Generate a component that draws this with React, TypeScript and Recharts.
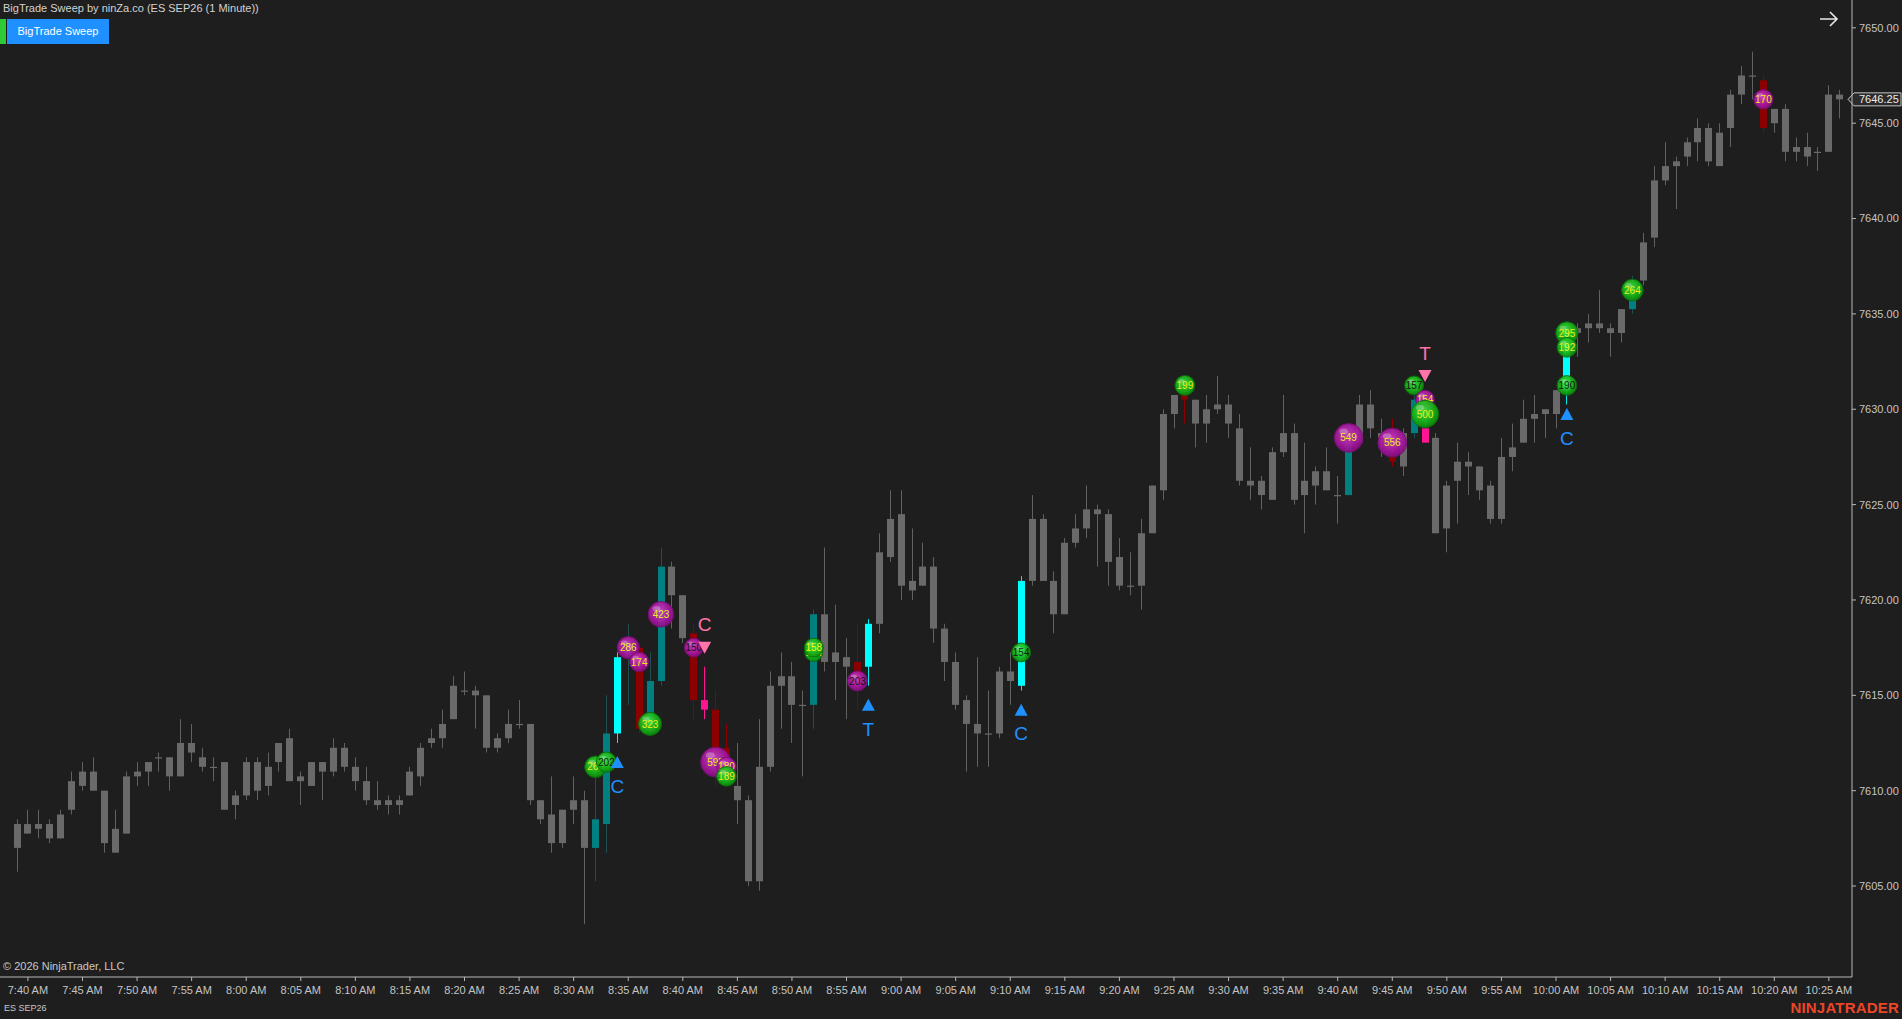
import React from "react";
import { ComposedChart, Bar, Scatter, XAxis, YAxis, ReferenceLine } from "recharts";

const W = 1902;
const H = 1019;
const FONT = '"Liberation Sans", Arial, sans-serif';
const BG = "#1e1e1e";

// ES SEP26, 1 minute bars, first bar is 7:39 AM
const firstBarTime = "7:39 AM";

const opens = [
  7607.0, 7608.25, 7608.0, 7608.25, 7607.5, 7609.0, 7610.25, 7611.0, 7610.0, 7606.75,
  7607.75, 7610.75, 7611.0, 7611.75, 7611.75, 7610.75, 7612.5, 7611.75, 7611.25, 7611.5,
  7609.25, 7609.75, 7611.5, 7610.25, 7611.5, 7612.75, 7610.5, 7610.25, 7611.5, 7611.0,
  7612.25, 7611.25, 7610.5, 7609.5, 7609.25, 7609.5, 7609.75, 7610.75, 7612.5, 7612.75,
  7613.75, 7615.25, 7615.25, 7615.0, 7612.25, 7612.75, 7613.5, 7613.5, 7609.5, 7608.75,
  7607.25, 7609.0, 7609.5, 7607.0, 7608.25, 7613.0, 7617.0, 7617.5, 7613.5, 7615.75,
  7621.75, 7620.25, 7618.25, 7614.75, 7614.25, 7612.25, 7610.25, 7609.5, 7605.25, 7611.25,
  7615.5, 7616.0, 7614.5, 7614.5, 7619.25, 7616.75, 7617.0, 7616.75, 7616.5, 7618.75,
  7622.25, 7624.5, 7620.5, 7620.75, 7621.75, 7618.5, 7616.75, 7614.75, 7613.5, 7613.0,
  7613.0, 7616.25, 7615.5, 7621.0, 7624.25, 7621.0, 7619.25, 7623.0, 7623.75, 7624.75,
  7624.5, 7622.25, 7620.75, 7620.75, 7623.5, 7625.75, 7629.75, 7630.75, 7630.5, 7629.25,
  7630.0, 7630.25, 7629.0, 7626.25, 7626.25, 7625.25, 7627.75, 7628.75, 7625.5, 7626.0,
  7626.75, 7625.5, 7625.5, 7628.25, 7630.25, 7628.75, 7627.5, 7627.0, 7628.75, 7629.0,
  7628.5, 7623.75, 7626.25, 7627.25, 7627.0, 7626.0, 7624.25, 7627.5, 7628.25, 7629.5,
  7629.75, 7629.75, 7631.0, 7634.0, 7634.25, 7634.5, 7634.25, 7634.0, 7635.25, 7636.75,
  7639.0, 7642.0, 7642.75, 7643.25, 7644.0, 7644.75, 7642.75, 7644.75, 7646.5, 7647.5,
  7647.25, 7645.0, 7645.75, 7643.5, 7643.75, 7643.5, 7643.5, 7646.5,
];

const highs = [
  7608.5, 7609.0, 7609.0, 7608.5, 7609.0, 7611.0, 7611.5, 7611.75, 7610.0, 7609.0,
  7611.0, 7611.5, 7611.5, 7612.0, 7611.75, 7613.75, 7613.5, 7612.25, 7611.75, 7611.5,
  7610.0, 7611.75, 7611.75, 7612.0, 7612.5, 7613.25, 7611.0, 7611.5, 7611.5, 7612.75,
  7612.5, 7611.75, 7611.25, 7610.5, 7609.75, 7609.75, 7611.25, 7612.5, 7613.25, 7614.25,
  7616.0, 7616.25, 7615.5, 7615.0, 7613.0, 7614.25, 7614.75, 7613.5, 7609.5, 7610.75,
  7609.0, 7610.75, 7610.0, 7611.25, 7615.0, 7617.25, 7618.75, 7617.75, 7617.25, 7622.75,
  7622.0, 7620.25, 7618.75, 7616.5, 7615.25, 7613.5, 7612.5, 7609.75, 7613.75, 7616.25,
  7617.25, 7616.75, 7615.25, 7619.5, 7622.75, 7619.75, 7618.0, 7618.75, 7619.0, 7623.5,
  7625.75, 7625.75, 7623.75, 7623.0, 7622.25, 7618.75, 7617.25, 7615.0, 7617.0, 7615.25,
  7616.5, 7617.25, 7621.25, 7625.5, 7624.5, 7621.5, 7623.25, 7624.5, 7626.0, 7625.0,
  7624.75, 7623.25, 7622.5, 7624.25, 7626.0, 7630.0, 7630.75, 7631.25, 7630.5, 7630.75,
  7631.75, 7630.75, 7629.75, 7628.0, 7626.5, 7628.0, 7630.75, 7629.25, 7628.25, 7627.0,
  7628.0, 7626.5, 7628.75, 7630.75, 7631.0, 7629.5, 7629.5, 7629.0, 7631.0, 7629.5,
  7628.75, 7626.25, 7628.25, 7627.75, 7627.0, 7626.25, 7628.5, 7629.25, 7630.5, 7630.75,
  7630.0, 7631.0, 7634.5, 7634.5, 7635.0, 7636.25, 7634.5, 7635.25, 7637.0, 7639.25,
  7642.75, 7644.0, 7643.25, 7644.25, 7645.25, 7645.0, 7645.0, 7646.75, 7648.0, 7648.75,
  7647.5, 7645.75, 7646.0, 7644.25, 7644.5, 7643.75, 7647.0, 7646.75,
];

const lows = [
  7605.75, 7607.75, 7607.5, 7607.25, 7607.5, 7608.75, 7610.0, 7610.0, 7606.75, 7606.75,
  7607.75, 7610.25, 7610.25, 7611.0, 7610.0, 7610.75, 7611.5, 7611.0, 7610.5, 7609.0,
  7608.5, 7609.5, 7609.5, 7609.75, 7611.0, 7610.5, 7609.25, 7610.25, 7609.5, 7610.75,
  7611.0, 7610.0, 7609.25, 7609.0, 7608.75, 7608.75, 7609.75, 7610.25, 7612.25, 7612.25,
  7613.75, 7615.0, 7613.25, 7612.0, 7612.0, 7612.5, 7613.25, 7609.25, 7608.25, 7606.75,
  7607.0, 7608.25, 7603.0, 7605.25, 7606.75, 7612.5, 7614.5, 7613.0, 7613.0, 7615.5,
  7618.5, 7617.75, 7613.75, 7613.75, 7610.25, 7610.75, 7608.25, 7605.0, 7604.75, 7611.0,
  7613.25, 7612.5, 7610.75, 7613.25, 7616.25, 7614.75, 7613.75, 7614.25, 7615.5, 7618.25,
  7622.0, 7620.0, 7620.0, 7620.75, 7617.75, 7615.75, 7614.25, 7611.0, 7611.25, 7611.25,
  7612.75, 7614.5, 7615.25, 7620.75, 7621.0, 7618.25, 7619.25, 7622.75, 7623.25, 7621.75,
  7620.75, 7620.5, 7620.25, 7619.5, 7623.5, 7625.25, 7629.0, 7629.25, 7628.0, 7628.25,
  7629.75, 7628.5, 7626.0, 7625.25, 7624.75, 7625.25, 7627.5, 7625.0, 7623.5, 7625.0,
  7625.75, 7624.0, 7625.5, 7628.25, 7628.5, 7627.5, 7627.0, 7626.5, 7628.5, 7628.25,
  7623.5, 7622.5, 7624.0, 7625.5, 7625.25, 7624.0, 7624.0, 7626.75, 7628.25, 7628.25,
  7628.5, 7629.0, 7630.25, 7632.75, 7633.5, 7634.0, 7632.75, 7633.5, 7635.0, 7636.5,
  7638.5, 7641.75, 7640.5, 7642.75, 7643.0, 7642.75, 7642.75, 7643.75, 7646.0, 7646.25,
  7644.5, 7644.5, 7643.0, 7643.0, 7642.75, 7642.5, 7643.5, 7645.25,
];

const closes = [
  7608.25, 7607.75, 7608.25, 7607.5, 7608.75, 7610.5, 7611.0, 7610.0, 7607.25, 7608.0,
  7610.75, 7611.0, 7611.5, 7611.75, 7610.75, 7612.5, 7612.0, 7611.25, 7611.25, 7609.0,
  7609.75, 7611.5, 7610.0, 7611.25, 7612.5, 7610.5, 7610.75, 7611.5, 7611.0, 7612.25,
  7611.25, 7610.5, 7609.5, 7609.25, 7609.5, 7609.25, 7611.0, 7612.25, 7612.75, 7613.5,
  7615.5, 7615.25, 7615.0, 7612.25, 7612.75, 7613.5, 7613.5, 7609.5, 7608.5, 7607.25,
  7609.0, 7609.5, 7607.0, 7608.5, 7613.0, 7617.0, 7617.75, 7613.25, 7615.75, 7621.75,
  7620.25, 7618.0, 7614.75, 7614.25, 7612.0, 7611.25, 7609.5, 7605.25, 7611.25, 7615.5,
  7616.0, 7614.5, 7614.5, 7619.25, 7616.75, 7617.25, 7616.5, 7615.5, 7618.75, 7622.5,
  7624.25, 7620.75, 7621.0, 7621.75, 7618.5, 7616.75, 7614.5, 7613.5, 7613.0, 7613.0,
  7616.25, 7615.75, 7621.0, 7624.25, 7621.0, 7619.25, 7623.0, 7623.75, 7624.75, 7624.5,
  7622.0, 7620.75, 7620.75, 7623.5, 7626.0, 7629.75, 7630.75, 7630.5, 7629.25, 7630.0,
  7630.25, 7629.25, 7626.25, 7626.0, 7625.5, 7627.75, 7628.75, 7625.25, 7626.25, 7626.75,
  7625.75, 7625.5, 7628.25, 7630.25, 7629.0, 7628.5, 7627.25, 7628.75, 7630.5, 7628.25,
  7623.5, 7626.0, 7627.25, 7627.0, 7625.75, 7624.25, 7627.5, 7628.0, 7629.5, 7629.75,
  7630.0, 7631.0, 7634.0, 7634.25, 7634.5, 7634.25, 7634.0, 7635.25, 7635.75, 7638.75,
  7642.0, 7642.75, 7643.0, 7644.0, 7644.75, 7643.0, 7644.5, 7646.5, 7647.5, 7647.5,
  7644.75, 7645.75, 7643.5, 7643.75, 7643.25, 7643.5, 7646.5, 7646.25,
];

// bars painted by the sweep indicator (bar index from first bar)
const cyanBars = [55, 78, 92, 142];
const tealBars = [53, 54, 56, 58, 59, 73, 122, 128, 148];
const redBars = [57, 62, 64, 65, 77, 107, 126, 160];
const pinkBars = [63, 129];

// big trade bubbles
const bubbleBar = [53, 54, 56, 57, 58, 59, 62, 64, 65, 65, 73, 73, 77, 92, 107, 122, 126, 128, 129, 129, 142, 142, 142, 148, 160];
const bubblePrice = [
  7611.25, 7611.5, 7617.5, 7616.75, 7613.5, 7619.25, 7617.5, 7611.5, 7611.25, 7610.75, 7617.25, 7617.5, 7615.75,
  7617.25, 7631.25, 7628.5, 7628.25, 7631.25, 7630.5, 7629.75, 7634.0, 7633.25, 7631.25, 7636.25, 7646.25,
];
const bubbleVolume = [263, 202, 286, 174, 323, 423, 150, 595, 180, 189, 124, 158, 203, 154, 199, 549, 556, 157, 154, 500, 295, 192, 190, 264, 170];
const bubbleSide = [
  "buy", "buy", "sell", "sell", "buy", "sell", "sell", "sell", "sell", "buy", "buy", "buy", "sell",
  "buy", "buy", "sell", "sell", "buy", "sell", "buy", "buy", "buy", "buy", "buy", "sell",
];

// sweep signals
const signalBar = [55, 63, 78, 92, 129, 142];
const signalPrice = [7611.5, 7617.5, 7614.5, 7614.25, 7631.75, 7629.75];
const signalDir = ["up", "down", "up", "up", "down", "up"];
const signalLetter = ["C", "C", "T", "C", "T", "C"];

const timeTicks = [
  "7:40 AM", "7:45 AM", "7:50 AM", "7:55 AM", "8:00 AM", "8:05 AM", "8:10 AM", "8:15 AM", "8:20 AM",
  "8:25 AM", "8:30 AM", "8:35 AM", "8:40 AM", "8:45 AM", "8:50 AM", "8:55 AM", "9:00 AM", "9:05 AM",
  "9:10 AM", "9:15 AM", "9:20 AM", "9:25 AM", "9:30 AM", "9:35 AM", "9:40 AM", "9:45 AM", "9:50 AM",
  "9:55 AM", "10:00 AM", "10:05 AM", "10:10 AM", "10:15 AM", "10:20 AM", "10:25 AM",
];
const priceTicks = [7605, 7610, 7615, 7620, 7625, 7630, 7635, 7640, 7645, 7650];

// ---- derived tables ----
const toMinutes = (t: string) => {
  const [hm, ap] = t.split(" ");
  const [h, m] = hm.split(":").map(Number);
  return ((h % 12) + (ap === "PM" ? 12 : 0)) * 60 + m;
};
const startMin = toMinutes(firstBarTime);
const tickIdx = timeTicks.map((t) => toMinutes(t) - startMin);
const tickLabel = new Map(tickIdx.map((v, k) => [v, timeTicks[k]]));

const flowOf = (i: number) =>
  cyanBars.includes(i) ? "cyan" : tealBars.includes(i) ? "teal" : redBars.includes(i) ? "red" : pinkBars.includes(i) ? "pink" : "gray";

const candles = opens.map((o, i) => ({
  idx: i,
  open: o,
  high: highs[i],
  low: lows[i],
  close: closes[i],
  range: [lows[i], highs[i]],
  flow: flowOf(i),
}));

const bubbles = bubbleBar.map((b, k) => ({ idx: b, price: bubblePrice[k], volume: bubbleVolume[k], side: bubbleSide[k], key: k }));
const signals = signalBar.map((b, k) => ({ idx: b, price: signalPrice[k], dir: signalDir[k], letter: signalLetter[k] }));
const lastClose = closes[closes.length - 1];

// ---- styling ----
const FLOW: Record<string, { body: string; wick: string }> = {
  gray: { body: "#6a6a6a", wick: "#616161" },
  cyan: { body: "#00ffff", wick: "#00e8e8" },
  teal: { body: "#008080", wick: "#1f4f4f" },
  red: { body: "#8b0000", wick: "#8b0000" },
  pink: { body: "#ff1493", wick: "#ff1493" },
};
const darkLabelAt = new Set([1, 6, 12, 13, 17, 22]);
const BLUE = "#1e90ff";
const PINK = "#ff74ab";

function Candle(props: any) {
  const { x, y, width, height, payload } = props;
  if (!payload || x == null || y == null) return null;
  const top = Math.min(y, y + height);
  const span = Math.abs(height);
  const k = span / (payload.high - payload.low);
  const cx = Math.round(x + width / 2);
  const yOf = (p: number) => top + (payload.high - p) * k;
  const bTop = yOf(Math.max(payload.open, payload.close));
  const bBot = yOf(Math.min(payload.open, payload.close));
  const c = FLOW[payload.flow];
  return (
    <g>
      <line x1={cx + 0.5} x2={cx + 0.5} y1={top} y2={top + span} stroke={c.wick} strokeWidth={1} />
      <rect x={cx - 3} y={bTop} width={7} height={Math.max(1.2, bBot - bTop)} fill={c.body} />
    </g>
  );
}

function Bubble(props: any) {
  const { cx, cy, payload } = props;
  if (cx == null || cy == null || !payload) return null;
  const r = 7.5 + payload.volume * 0.0125;
  const buy = payload.side === "buy";
  const dark = darkLabelAt.has(payload.key);
  return (
    <g opacity={0.92}>
      <circle cx={cx} cy={cy} r={r} fill={`url(#${buy ? "bubBuy" : "bubSell"})`} stroke={buy ? "#0b6e0b" : "#7a0e76"} strokeWidth={1} />
      <ellipse cx={cx - r * 0.35} cy={cy - r * 0.45} rx={r * 0.3} ry={r * 0.2} fill="#ffffff" opacity={0.3} />
      <text x={cx} y={cy} dy="0.36em" textAnchor="middle" fontFamily={FONT} fontSize={10} fill={dark ? "#141414" : "#ffff1a"}>
        {payload.volume}
      </text>
    </g>
  );
}

function Signal(props: any) {
  const { cx, cy, payload } = props;
  if (cx == null || cy == null || !payload) return null;
  const up = payload.dir === "up";
  const col = up ? BLUE : PINK;
  const pts = up
    ? `${cx},${cy - 6} ${cx + 6.5},${cy + 6} ${cx - 6.5},${cy + 6}`
    : `${cx - 6.5},${cy - 6} ${cx + 6.5},${cy - 6} ${cx},${cy + 6}`;
  const ly = up ? cy + 24 : cy - 23;
  return (
    <g>
      <polygon points={pts} fill={col} />
      <text x={cx} y={ly} dy="0.36em" textAnchor="middle" fontFamily={FONT} fontSize={19} fill={col}>
        {payload.letter}
      </text>
    </g>
  );
}

function PriceTag(props: any) {
  const vb = props.viewBox;
  if (!vb) return null;
  const x0 = vb.x + vb.width;
  const y = vb.y;
  const h = 13;
  const pts = `${x0 - 4},${y} ${x0 + 2},${y - h / 2} ${W - 1},${y - h / 2} ${W - 1},${y + h / 2} ${x0 + 2},${y + h / 2}`;
  return (
    <g>
      <polygon points={pts} fill="#2b2b2b" stroke="#c4c4c4" strokeWidth={1} />
      <text x={x0 + 7} y={y} dy="0.36em" fontFamily={FONT} fontSize={11} fill="#ececec">
        {lastClose.toFixed(2)}
      </text>
    </g>
  );
}

const axisText = { fill: "#c4c4c4", fontSize: 11, fontFamily: FONT };

export default function App() {
  return (
    <div style={{ position: "relative", width: W, height: H, background: BG, overflow: "hidden" }}>
      <style>{`body{margin:0;background:${BG};}`}</style>
      <ComposedChart width={W} height={H} data={candles} margin={{ top: 0, right: 0, bottom: 0, left: 0 }}>
        <defs>
          <radialGradient id="bubBuy" cx="45%" cy="40%" r="62%">
            <stop offset="0%" stopColor="#45e645" />
            <stop offset="65%" stopColor="#16b016" />
            <stop offset="100%" stopColor="#0a850a" />
          </radialGradient>
          <radialGradient id="bubSell" cx="45%" cy="40%" r="62%">
            <stop offset="0%" stopColor="#cf46c6" />
            <stop offset="65%" stopColor="#a6169e" />
            <stop offset="100%" stopColor="#820c7d" />
          </radialGradient>
        </defs>
        <XAxis
          type="number"
          dataKey="idx"
          domain={[-1.5575, 168.12]}
          allowDataOverflow
          ticks={tickIdx}
          interval={0}
          tickFormatter={(v: number) => tickLabel.get(v) ?? ""}
          height={42}
          stroke="#b8b8b8"
          tickSize={4}
          tickMargin={5}
          tick={axisText}
        />
        <YAxis
          orientation="right"
          type="number"
          width={50}
          domain={[7600.23, 7651.46]}
          allowDataOverflow
          ticks={priceTicks}
          interval={0}
          tickFormatter={(v: number) => v.toFixed(2)}
          stroke="#b8b8b8"
          tickSize={4}
          tickMargin={3}
          tick={axisText}
        />
        <Bar dataKey="range" barSize={8} shape={Candle} isAnimationActive={false} />
        <Scatter data={bubbles} dataKey="price" shape={Bubble} isAnimationActive={false} />
        <Scatter data={signals} dataKey="price" shape={Signal} isAnimationActive={false} />
        <ReferenceLine y={lastClose} stroke="transparent" label={(p: any) => <PriceTag {...p} />} />
      </ComposedChart>

      {/* chart chrome */}
      <div style={{ position: "absolute", left: 3, top: 2, fontFamily: FONT, fontSize: 11, color: "#d2d2d2", whiteSpace: "nowrap" }}>
        BigTrade Sweep by ninZa.co (ES SEP26 (1 Minute))
      </div>
      <div style={{ position: "absolute", left: 0, top: 19, width: 6, height: 25, background: "#2dc937" }} />
      <div
        style={{
          position: "absolute", left: 7, top: 19, width: 102, height: 25, background: BLUE, color: "#ffffff",
          fontFamily: FONT, fontSize: 11, lineHeight: "25px", textAlign: "center",
        }}
      >
        BigTrade Sweep
      </div>
      <svg style={{ position: "absolute", left: 1818, top: 10 }} width={22} height={18}>
        <path d="M2 9 H19 M12 2 L19 9 L12 16" stroke="#e8e8e8" strokeWidth={1.6} fill="none" />
      </svg>
      <div style={{ position: "absolute", left: 3, top: 960, fontFamily: FONT, fontSize: 11, color: "#c8c8c8", whiteSpace: "nowrap" }}>
        © 2026 NinjaTrader, LLC
      </div>
      <div style={{ position: "absolute", left: 4, top: 1003, fontFamily: FONT, fontSize: 9, color: "#c8c8c8", whiteSpace: "nowrap" }}>
        ES SEP26
      </div>
      <div
        style={{
          position: "absolute", right: 3, top: 999, fontFamily: FONT, fontSize: 15, fontWeight: 700,
          color: "#ec4628", letterSpacing: 0.2, whiteSpace: "nowrap",
        }}
      >
        NINJATRADER
      </div>
    </div>
  );
}
